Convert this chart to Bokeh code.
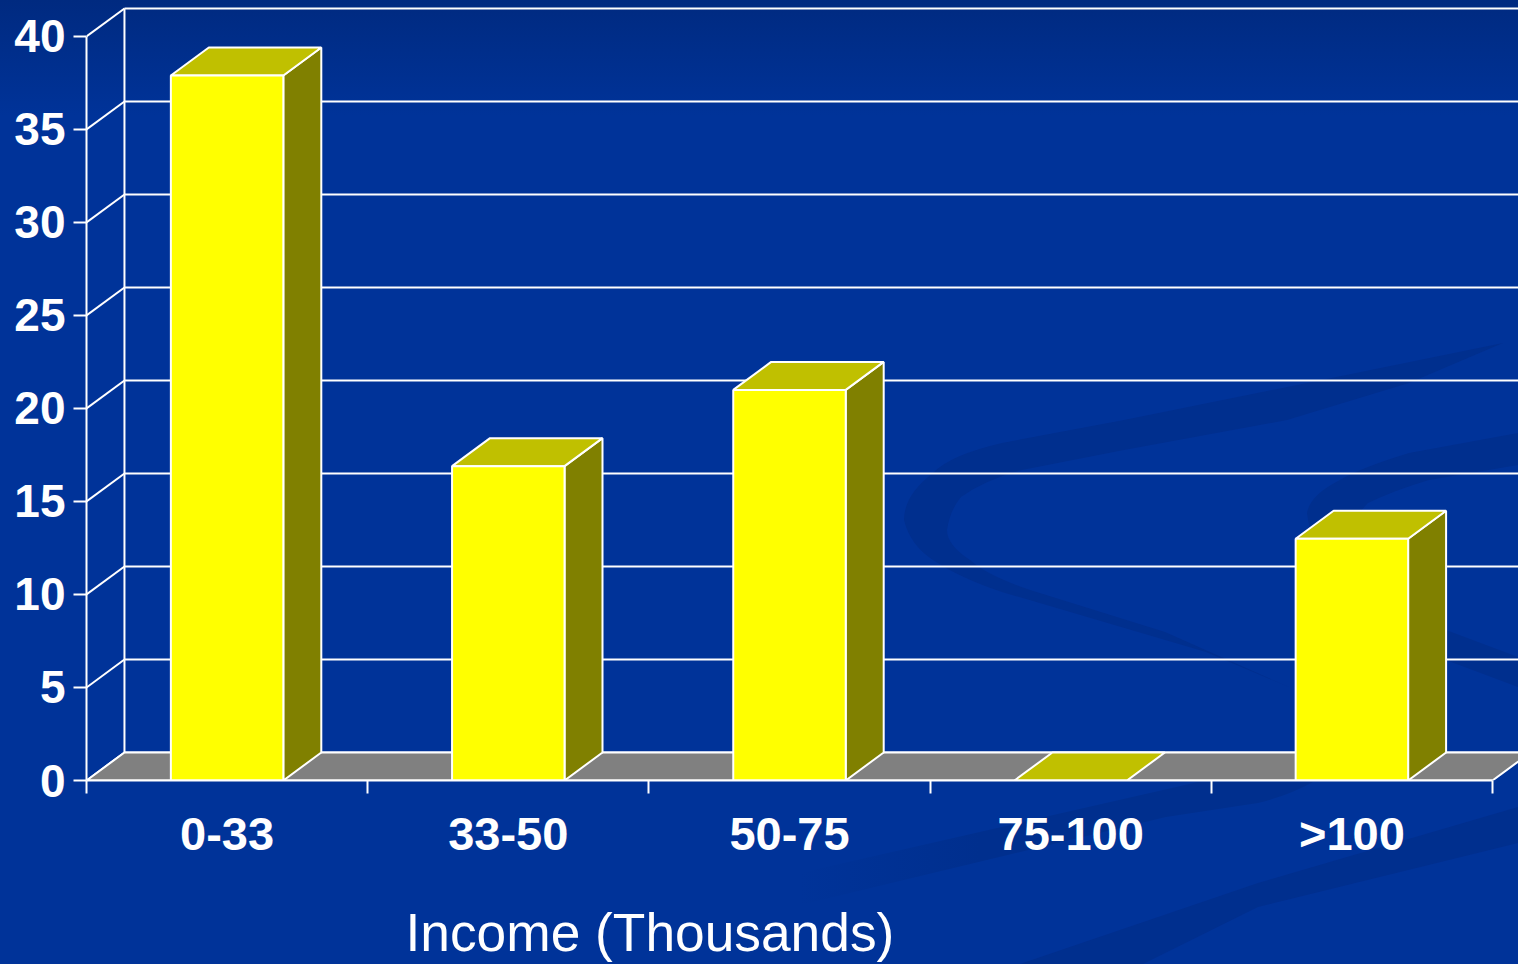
from urllib.parse import quote
from bokeh.plotting import figure
from bokeh.models import Range1d, FixedTicker, Title
from bokeh.embed import file_html
from bokeh.resources import INLINE

categories = ["0-33", "33-50", "50-75", "75-100", ">100"]
values = [37.9, 16.9, 21.0, 0.0, 13.0]
y_ticks = [0, 5, 10, 15, 20, 25, 30, 35, 40]
x_label = "Income (Thousands)"

W, H = 1518, 964
EXTRA = 35                # room under the window so the x title can sit low, like the reference
DX, DY = 0.135, 1.505     # 3D depth, in axis units
BAR = 0.4
X_END = 5.0925
FONT = "Liberation Sans"
WHITE = "#ffffff"
LW = 2

# decorative slide backdrop (gradient and swooshes), drawn behind the transparent plot
SW = "#002f8e"
backdrop = f"""<svg xmlns='http://www.w3.org/2000/svg' width='{W}' height='{H}'>
<defs><linearGradient id='g' x1='0' y1='0' x2='0' y2='1'>
<stop offset='0' stop-color='#002a80'/><stop offset='0.12' stop-color='#003399'/><stop offset='1' stop-color='#003399'/></linearGradient>
<linearGradient id='f' x1='0' y1='0' x2='1' y2='0'>
<stop offset='0' stop-color='{SW}' stop-opacity='0'/><stop offset='0.35' stop-color='{SW}'/></linearGradient></defs>
<rect width='{W}' height='{H}' fill='url(#g)'/>
<path fill='{SW}' d='M1503 343L1307 383L1124 420L1002 443Q950 455 933 473Q904 495 904 520Q910 545 933 560Q960 578 1002 592L1206 652L1291 688L1165 632L1043 594Q990 578 970 560Q947 545 947 530Q950 510 961 497Q985 480 1022 470L1124 450L1287 420L1409 383Z'/>
<path fill='{SW}' d='M1518 433L1409 453Q1360 468 1340 480Q1310 495 1307 513Q1310 540 1330 570Q1380 625 1446 660L1518 687V657L1446 630Q1380 590 1360 560Q1340 530 1368 503Q1395 490 1429 480L1518 465Z'/>
<path fill='url(#f)' d='M800 873L1198 782H1313Q1290 795 1258 803L1166 817L800 905Z'/>
<path fill='{SW}' d='M1518 807L1258 883L1020 964H1143L1258 907L1518 843Z'/>
</svg>"""

p = figure(width=W, height=H + EXTRA, x_range=Range1d(0, X_END), y_range=Range1d(0, 41.935),
           output_backend="svg", toolbar_location=None,
           min_border_left=86, min_border_right=0, min_border_top=0, min_border_bottom=184 + EXTRA,
           margin=(0, 0, -EXTRA, 0))
p.styles = {"background-image": "url(\"data:image/svg+xml," + quote(backdrop) + "\")",
            "background-repeat": "no-repeat", "background-color": "#003399"}
p.background_fill_color = None
p.border_fill_color = None
p.outline_line_color = None
p.grid.visible = False

# back wall and side wall
p.segment([DX] * len(y_ticks), [v + DY for v in y_ticks], [X_END] * len(y_ticks), [v + DY for v in y_ticks],
          line_color=WHITE, line_width=LW)
p.segment([0] * len(y_ticks), y_ticks, [DX] * len(y_ticks), [v + DY for v in y_ticks],
          line_color=WHITE, line_width=LW)
p.segment([DX], [DY], [DX], [y_ticks[-1] + DY], line_color=WHITE, line_width=LW)

# floor
n = len(categories)
p.patch([0, n, n + DX, DX], [0, 0, DY, DY], fill_color="#808080", line_color=WHITE, line_width=LW)

# bars
centers = [i + 0.5 for i in range(n)]
left = [c - BAR / 2 for c in centers]
right = [c + BAR / 2 for c in centers]
side_x = [[r, r + DX, r + DX, r] for r, v in zip(right, values) if v > 0]
side_y = [[0, DY, v + DY, v] for v in values if v > 0]
p.patches(side_x, side_y, fill_color="#808000", line_color=WHITE, line_width=LW)
top_x = [[l, r, r + DX, l + DX] for l, r in zip(left, right)]
top_y = [[v, v, v + DY, v + DY] for v in values]
p.patches(top_x, top_y, fill_color="#c0c000", line_color=WHITE, line_width=LW)
p.vbar(x=[c for c, v in zip(centers, values) if v > 0], top=[v for v in values if v > 0], bottom=0,
       width=BAR, fill_color="#ffff00", line_color=WHITE, line_width=LW)

# axes
ya = p.yaxis[0]
ya.ticker = FixedTicker(ticks=y_ticks)
ya.bounds = (0, 40)
ya.axis_line_color = WHITE
ya.axis_line_width = LW
ya.major_tick_line_color = WHITE
ya.major_tick_line_width = LW
ya.major_tick_in = 0
ya.major_tick_out = 13
ya.major_label_standoff = 8
ya.major_label_text_color = WHITE
ya.major_label_text_font = FONT
ya.major_label_text_font_style = "bold"
ya.major_label_text_font_size = "46px"

xa = p.xaxis[0]
xa.ticker = FixedTicker(ticks=centers, minor_ticks=list(range(n + 1)))
xa.major_label_overrides = {c: t for c, t in zip(centers, categories)}
xa.bounds = (0, n)
xa.axis_line_color = WHITE
xa.axis_line_width = LW
xa.major_tick_line_color = None
xa.major_tick_in = 0
xa.major_tick_out = 0
xa.minor_tick_line_color = WHITE
xa.minor_tick_line_width = LW
xa.minor_tick_in = 0
xa.minor_tick_out = 13
xa.major_label_standoff = 13
xa.major_label_text_color = WHITE
xa.major_label_text_font = FONT
xa.major_label_text_font_style = "bold"
xa.major_label_text_font_size = "47px"

p.add_layout(Title(text=x_label, align="left", offset=319, standoff=76,
                   text_color=WHITE, text_font=FONT, text_font_size="53.3px",
                   text_font_style="normal"), "below")

open("out.html", "w").write(file_html(p, INLINE))
